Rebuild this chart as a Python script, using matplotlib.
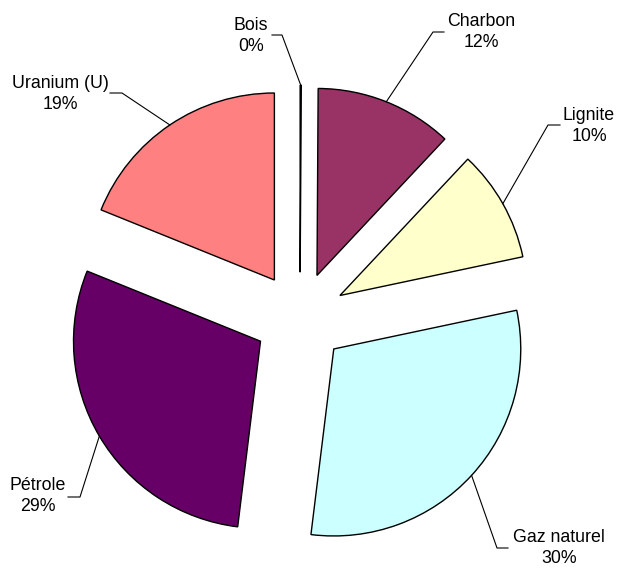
import numpy as np
import matplotlib
matplotlib.use("Agg")
import matplotlib.pyplot as plt

# Energy mix (%)
labels = ["Bois", "Charbon", "Lignite", "Gaz naturel", "Pétrole", "Uranium (U)"]
values = [0.1, 11.9, 9.7, 30.3, 29.2, 18.9]
colors = ["#9999FF", "#993366", "#FFFFCC", "#CCFFFF", "#660066", "#FF8080"]

# Layout in image pixels (618 x 570 canvas)
W, H = 618, 570
CX, CY, R = 300, 318, 187
text_pos = [(251, 36), (481, 32), (589, 126), (559, 548), (38, 496), (60, 94)]
knee_pos = [[(272, 35), (282, 35)], [(444, 32), (433, 32)], [(560, 125), (548, 125)],
            [(508, 548), (497, 548)], [(68, 497), (80, 497)], [(110, 93), (122, 93)]]


def px(x, y):
    return (x - CX) / R, (CY - y) / R


plt.rcParams['font.family'] = ['Liberation Sans', 'DejaVu Sans']

fig = plt.figure(figsize=(W / 100, H / 100), dpi=100)
ax = fig.add_axes([0, 0, 1, 1])

wedges, _ = ax.pie(values, colors=colors, explode=[0.245] * len(values),
                   startangle=90, counterclock=False, radius=1.0,
                   wedgeprops=dict(edgecolor="black", linewidth=1.0))

total = sum(values)
for w, lab, tp, knees, v in zip(wedges, labels, text_pos, knee_pos, values):
    # leader ends on the arc at the wedge's mid-angle
    mid = np.deg2rad((w.theta1 + w.theta2) / 2)
    cx, cy = w.center
    end = (cx + w.r * np.cos(mid), cy + w.r * np.sin(mid))
    pts = [px(*k) for k in knees] + [end]
    xs, ys = zip(*pts)
    ax.plot(xs, ys, color="black", linewidth=0.8)
    tx, ty = px(*tp)
    ax.text(tx, ty, f"{lab}\n{round(v / total * 100)}%", ha="center", va="center",
            fontsize=12.8, linespacing=1.35, color="black")

ax.set_aspect("auto")
ax.set_xlim(px(0, 0)[0], px(W, 0)[0])
ax.set_ylim(px(0, H)[1], px(0, 0)[1])
ax.axis("off")

fig.savefig("out.png", dpi=100, facecolor="white")
